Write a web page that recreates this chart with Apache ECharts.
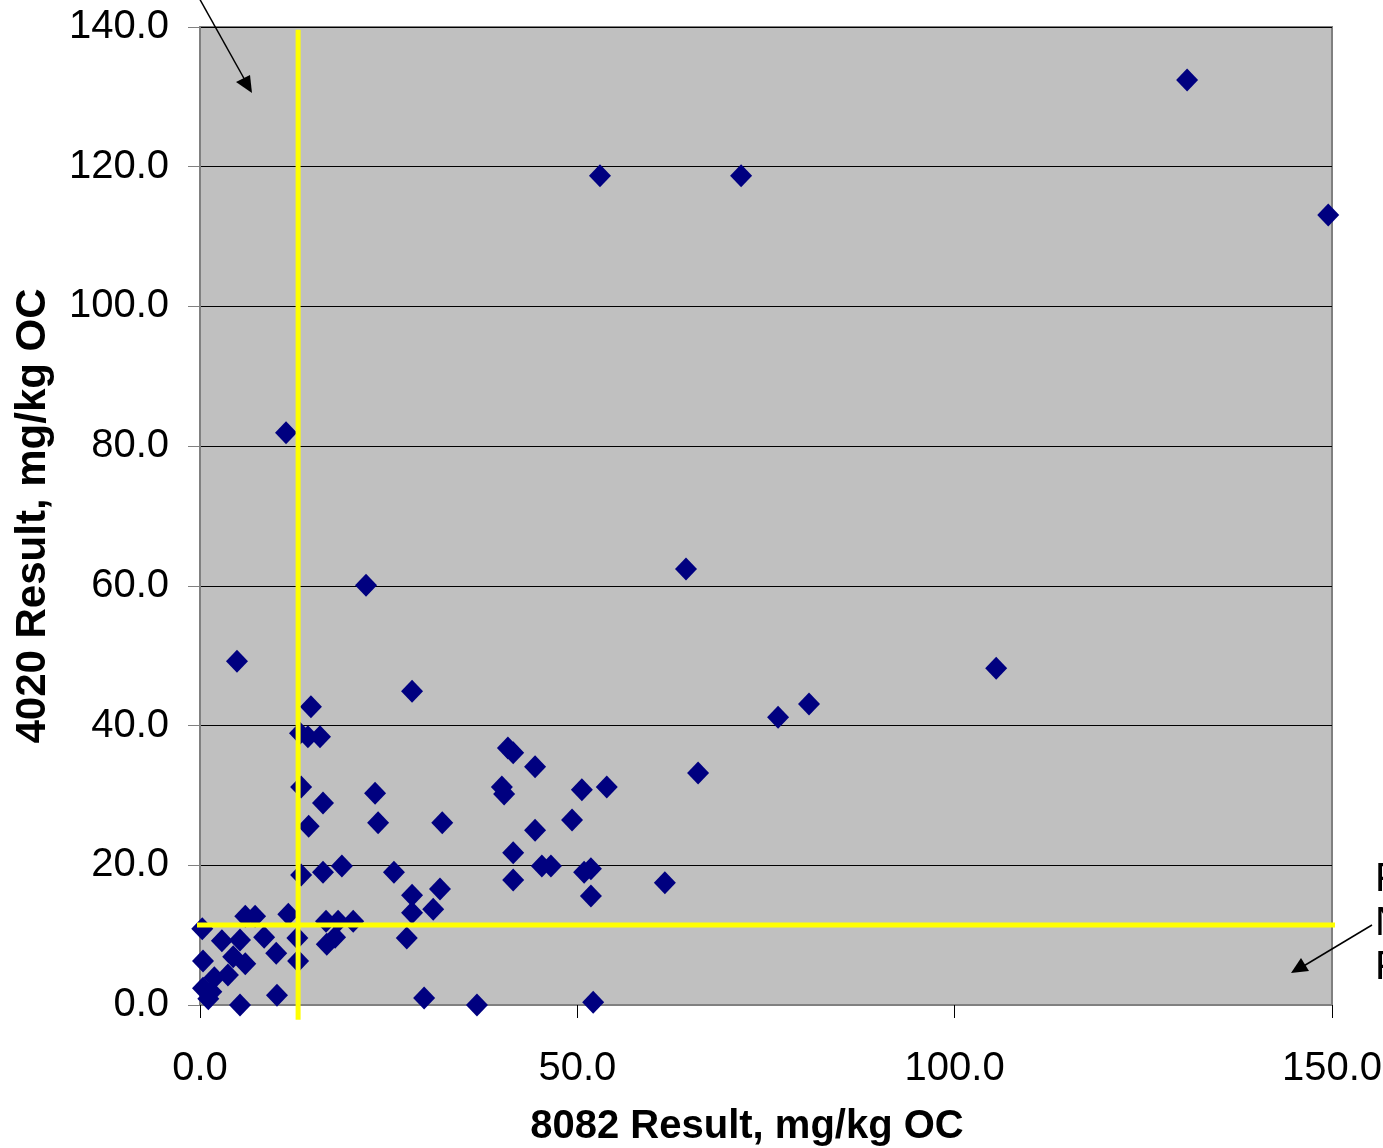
<!DOCTYPE html>
<html>
<head>
<meta charset="utf-8">
<script src="https://cdn.jsdelivr.net/npm/echarts@6/dist/echarts.min.js"></script>
<style>html,body{margin:0;padding:0;background:#fff;}#c{width:1383px;height:1148px;}</style>
</head>
<body>
<div id="c"></div>
<script>
// 8082 result (x) and 4020 result (y), mg/kg OC
var xVals = [130.8, 53.0, 71.7, 149.5, 11.4, 22.0, 64.4, 4.9, 105.5, 28.1,
             80.7, 76.6, 14.7, 66.0, 13.25, 14.3, 15.9, 13.4, 16.3, 23.2,
             14.4, 23.6, 32.1, 13.4, 16.3, 18.8, 25.7, 40.8, 41.5, 44.4,
             40.0, 40.3, 50.6, 53.9, 44.4, 49.3, 41.5, 45.3, 46.5, 50.9,
             51.8, 41.5, 61.6, 51.8, 31.8, 28.1, 30.9, 28.1, 27.4, 29.7,
             36.7, 52.1, 11.7, 12.9, 13.0, 16.7, 18.3, 20.3, 16.8, 17.9,
             6.0, 7.3, 0.3, 2.9, 5.3, 8.5, 10.1, 6.0, 4.4, 3.7,
             0.4, 1.9, 0.4, 1.1, 5.3, 10.2, 1.5];
var yVals = [132.4, 118.7, 118.7, 113.1, 81.9, 60.1, 62.4, 49.2, 48.2, 44.9,
             43.1, 41.2, 42.7, 33.2, 38.9, 38.4, 38.4, 31.2, 28.9, 30.3,
             25.6, 26.1, 26.1, 18.6, 19.0, 19.9, 19.0, 36.8, 36.1, 34.1,
             31.2, 30.2, 30.8, 31.2, 25.0, 26.5, 21.8, 19.9, 19.9, 19.0,
             19.5, 17.9, 17.5, 15.6, 16.6, 15.7, 13.7, 13.2, 9.6, 1.0,
             0.0, 0.4, 13.0, 9.6, 6.3, 12.0, 12.0, 12.0, 8.7, 9.7,
             12.7, 12.7, 10.9, 9.2, 9.3, 9.7, 7.4, 5.9, 6.9, 4.3,
             6.3, 3.9, 2.4, 0.9, 0.0, 1.4, 1.9];
var xTicks = [0, 50, 100, 150];
var yTicks = [0, 20, 40, 60, 80, 100, 120, 140];
// reference (screening) levels drawn as yellow lines
var refX = 13.0;
var refY = 11.45;
var refXSpan = [-2.1, 139.6];
var refYSpan = [-3.7, 153.3];
var rightNotes = ['F', 'N', 'F'];

var pts = xVals.map(function (v, i) { return [v, yVals[i]]; });

var chart = echarts.init(document.getElementById('c'), null, {renderer: 'canvas'});
var FONT = '"Liberation Sans", Arial, sans-serif';
chart.setOption({
  animation: false,
  backgroundColor: '#ffffff',
  grid: {
    left: 200, top: 27, right: 51, bottom: 143,
    outerBoundsMode: 'none', containLabel: false,
    show: true, backgroundColor: '#C0C0C0', borderColor: '#808080', borderWidth: 2
  },
  xAxis: {
    type: 'value', min: xTicks[0], max: xTicks[xTicks.length - 1], interval: 50,
    name: '8082 Result, mg/kg OC', nameLocation: 'middle', nameGap: 102,
    nameTextStyle: {fontFamily: FONT, fontSize: 40, fontWeight: 'bold', color: '#000', padding: [0, 38, 0, 0]},
    axisLine: {show: true, lineStyle: {color: '#808080', width: 2}},
    axisTick: {show: true, length: 13, lineStyle: {color: '#000', width: 1}},
    axisLabel: {fontFamily: FONT, fontSize: 40, color: '#000', margin: 44,
      formatter: function (v) { return v.toFixed(1); }},
    splitLine: {show: false}
  },
  yAxis: {
    type: 'value', min: yTicks[0], max: yTicks[yTicks.length - 1], interval: 20,
    name: '4020 Result, mg/kg OC', nameLocation: 'middle', nameGap: 146,
    nameTextStyle: {fontFamily: FONT, fontSize: 42, fontWeight: 'bold', color: '#000'},
    axisLine: {show: true, lineStyle: {color: '#808080', width: 2}},
    axisTick: {show: true, length: 12, lineStyle: {color: '#808080', width: 1}},
    axisLabel: {fontFamily: FONT, fontSize: 40, color: '#000', margin: 31,
      formatter: function (v) { return v.toFixed(1); }},
    splitLine: {show: true, lineStyle: {color: '#000', width: 1}}
  },
  series: [
    {
      type: 'scatter', data: pts, symbol: 'diamond', symbolSize: [22, 23],
      itemStyle: {color: '#000080', opacity: 1}, z: 3
    },
    {
      type: 'line', data: [[refX, refXSpan[0]], [refX, refXSpan[1]]], clip: false,
      symbol: 'none', silent: true, lineStyle: {color: '#FFFF00', width: 5}, z: 5
    },
    {
      type: 'line', data: [[refYSpan[0], refY], [refYSpan[1], refY]], clip: false,
      symbol: 'none', silent: true, lineStyle: {color: '#FFFF00', width: 5}, z: 5
    }
  ],
  graphic: [
    // top-left callout arrow
    {type: 'line', shape: {x1: 198, y1: -4, x2: 246, y2: 82}, style: {stroke: '#000', lineWidth: 1.5}, z: 10},
    {type: 'polygon', shape: {points: [[252, 93], [236, 82], [250, 75]]}, style: {fill: '#000'}, z: 10},
    // bottom-right callout arrow
    {type: 'line', shape: {x1: 1372, y1: 925, x2: 1302, y2: 967}, style: {stroke: '#000', lineWidth: 1.5}, z: 10},
    {type: 'polygon', shape: {points: [[1291, 973], [1301, 958], [1309, 971]]}, style: {fill: '#000'}, z: 10},
    {type: 'text', left: 1375, top: 858, style: {text: rightNotes.join('\n'), font: '40px ' + FONT, fill: '#000', lineHeight: 44}, z: 10}
  ]
});
</script>
</body>
</html>
